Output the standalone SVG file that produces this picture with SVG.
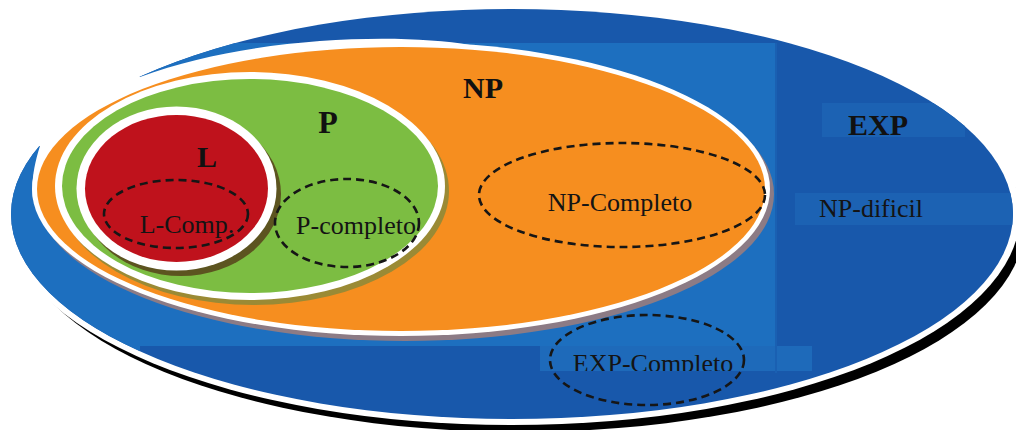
<svg xmlns="http://www.w3.org/2000/svg" width="1016" height="430" viewBox="0 0 1016 430">
  <defs>
    <clipPath id="blueClip">
      <ellipse cx="512" cy="214" rx="501" ry="205"/>
    </clipPath>
    <clipPath id="expTextClip">
      <rect x="540" y="330" width="280" height="41"/>
    </clipPath>
  </defs>
  <style>
    .ring { fill: #ffffff; }
    .dash { fill: none; stroke: #161616; stroke-width: 2.6; stroke-dasharray: 8 5; }
    .title { font-family: "Liberation Serif", "Times New Roman", serif; font-weight: bold; font-size: 30px; fill: #111111; text-anchor: middle; }
    .label { font-family: "Liberation Serif", "Times New Roman", serif; font-size: 26px; fill: #141414; text-anchor: middle; }
  </style>
  <rect width="1016" height="430" fill="#ffffff"/>

  <g id="exp">
    <ellipse cx="520" cy="226" rx="504" ry="206" fill="#000000"/>
    <ellipse class="ring" cx="512" cy="214" rx="508" ry="211"/>
    <ellipse cx="512" cy="214" rx="501" ry="205" fill="#1858ab"/>
    <g clip-path="url(#blueClip)">
      <rect x="0" y="43" width="776" height="303" fill="#1d6fbf"/>
      <rect x="0" y="346" width="140" height="84" fill="#1d6fbf"/>
      <rect x="540" y="346" width="272" height="25" fill="#1e6aba"/>
      <rect x="822" y="103" width="143" height="34" fill="#1c62b3"/>
      <rect x="795" y="193" width="221" height="32" fill="#1c62b3"/>
      <rect x="775" y="43" width="2" height="330" fill="#1a60b2"/>
    </g>
    <path d="M 470,45 C 400,33 250,36 140,77 L 100,60 L 0,60 L 0,150 L 40,146 C 34,165 31,182 33,200 L 200,200 Z" fill="#ffffff"/>
    <text class="title" x="878" y="135">EXP</text>
  </g>

  <g id="np">
    <ellipse cx="405" cy="194" rx="369" ry="147" fill="#8c7b85"/>
    <ellipse class="ring" cx="401" cy="189" rx="369" ry="147"/>
    <ellipse cx="401" cy="189" rx="364" ry="142" fill="#f68e1f"/>
    <text class="title" x="483" y="98">NP</text>
  </g>

  <g id="p">
    <ellipse cx="254" cy="191" rx="195" ry="114" fill="#9a8a35"/>
    <ellipse class="ring" cx="250" cy="186" rx="195" ry="114"/>
    <ellipse cx="250" cy="186" rx="188" ry="107" fill="#7cbd42"/>
    <text class="title" x="328" y="133" style="font-size:32px">P</text>
  </g>

  <g id="l">
    <ellipse cx="181" cy="194" rx="100" ry="82" fill="#5c5420"/>
    <ellipse class="ring" cx="176.5" cy="188.5" rx="100" ry="82"/>
    <ellipse cx="176.5" cy="188.5" rx="91.5" ry="73.5" fill="#bf121c"/>
    <text class="title" x="207" y="167">L</text>
  </g>

  <g id="l-comp">
    <ellipse class="dash" cx="176" cy="214" rx="72" ry="34"/>
    <text class="label" x="187" y="233">L-Comp.</text>
  </g>

  <g id="p-completo">
    <ellipse class="dash" cx="347" cy="223" rx="72" ry="44"/>
    <text class="label" x="356" y="234">P-completo</text>
  </g>

  <g id="np-completo">
    <ellipse class="dash" cx="622" cy="195" rx="143" ry="52"/>
    <text class="label" x="620" y="211">NP-Completo</text>
  </g>

  <g id="np-dificil">
    <text class="label" x="871" y="217">NP-dificil</text>
  </g>

  <g id="exp-completo">
    <ellipse class="dash" cx="647" cy="360" rx="97" ry="45"/>
    <text class="label" x="653" y="372" clip-path="url(#expTextClip)">EXP-Completo</text>
  </g>

  <g id="connectors"/>
</svg>
